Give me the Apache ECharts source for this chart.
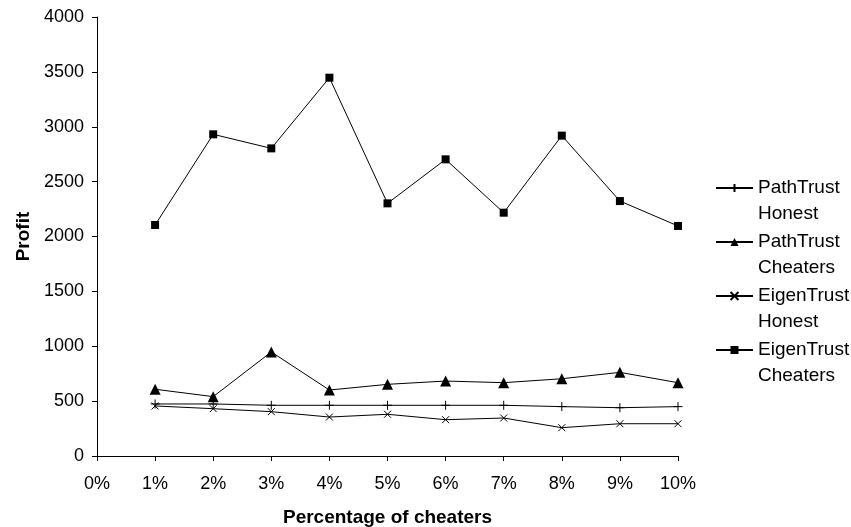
<!DOCTYPE html>
<html>
<head>
<meta charset="utf-8">
<script src="https://cdn.jsdelivr.net/npm/echarts@6/dist/echarts.min.js"></script>
<style>
  html, body { margin: 0; padding: 0; background: #ffffff; }
  #chart { width: 851px; height: 527px; }
</style>
</head>
<body>
<div id="chart"></div>
<script>
const categories = ['0%', '1%', '2%', '3%', '4%', '5%', '6%', '7%', '8%', '9%', '10%'];
const pathTrustHonest   = [null, 474, 474, 462, 462, 462, 462, 462, 450, 440, 450];
const pathTrustCheaters = [null, 608, 541, 948, 601, 653, 683, 668, 704, 762, 668];
const eigenTrustHonest  = [null, 456, 431, 404, 355, 380, 331, 346, 258, 294, 294];
const eigenTrustCheaters= [null, 2105, 2931, 2803, 3447, 2302, 2703, 2217, 2919, 2323, 2096];
const seriesNames = ['PathTrust\nHonest', 'PathTrust\nCheaters', 'EigenTrust\nHonest', 'EigenTrust\nCheaters'];

const FONT = 'Liberation Sans, Arial, sans-serif';
const plusPath = 'path://M5,0L5,10M0,5L10,5';
const crossPath = 'path://M0,0L10,10M10,0L0,10';

function mk(name, data, symbol, size, stroke) {
  return {
    name: name,
    type: 'line',
    data: data,
    symbol: symbol,
    symbolSize: size,
    showSymbol: true,
    connectNulls: false,
    lineStyle: { color: '#000', width: 1 },
    itemStyle: stroke
      ? { color: '#000', borderColor: '#000', borderWidth: 1 }
      : { color: '#000', borderWidth: 0 },
    emphasis: { disabled: true },
    animation: false
  };
}

const chart = echarts.init(document.getElementById('chart'), null, { renderer: 'canvas' });
chart.setOption({
  backgroundColor: '#ffffff',
  animation: false,
  textStyle: { fontFamily: FONT, color: '#000' },
  grid: { left: 97, right: 173, top: 17, bottom: 71, containLabel: false, outerBoundsMode: 'none' },
  xAxis: {
    type: 'category',
    data: categories,
    boundaryGap: false,
    name: 'Percentage of cheaters',
    nameLocation: 'middle',
    nameGap: 52,
    nameTextStyle: { fontFamily: FONT, fontSize: 19, fontWeight: 'bold', color: '#000' },
    axisLine: { lineStyle: { color: '#000', width: 1 } },
    axisTick: { show: true, inside: false, length: 5, alignWithLabel: true, lineStyle: { color: '#000' } },
    axisLabel: { fontFamily: FONT, fontSize: 18, color: '#000', margin: 19, interval: 0 },
    splitLine: { show: false }
  },
  yAxis: {
    type: 'value',
    min: 0,
    max: 4000,
    interval: 500,
    name: 'Profit',
    nameLocation: 'middle',
    nameGap: 60,
    nameRotate: 90,
    nameTextStyle: { fontFamily: FONT, fontSize: 19, fontWeight: 'bold', color: '#000' },
    axisLine: { show: true, lineStyle: { color: '#000', width: 1 } },
    axisTick: { show: true, inside: false, length: 5, lineStyle: { color: '#000' } },
    axisLabel: { fontFamily: FONT, fontSize: 18, color: '#000', margin: 13, formatter: function (v) { return String(v); } },
    splitLine: { show: false }
  },
  legend: {
    orient: 'vertical',
    left: 715,
    top: 149,
    padding: 0,
    itemWidth: 37,
    itemHeight: 10,
    itemGap: -24,
    selectedMode: false,
    data: seriesNames,
    formatter: function (name) { return ' \n' + name; },
    textStyle: { fontFamily: FONT, fontSize: 19, color: '#000', lineHeight: 26 }
  },
  series: [
    mk(seriesNames[0], pathTrustHonest, plusPath, 9, true),
    mk(seriesNames[1], pathTrustCheaters, 'triangle', 11, false),
    mk(seriesNames[2], eigenTrustHonest, crossPath, 7, true),
    mk(seriesNames[3], eigenTrustCheaters, 'rect', 8, false)
  ]
});
</script>
</body>
</html>
